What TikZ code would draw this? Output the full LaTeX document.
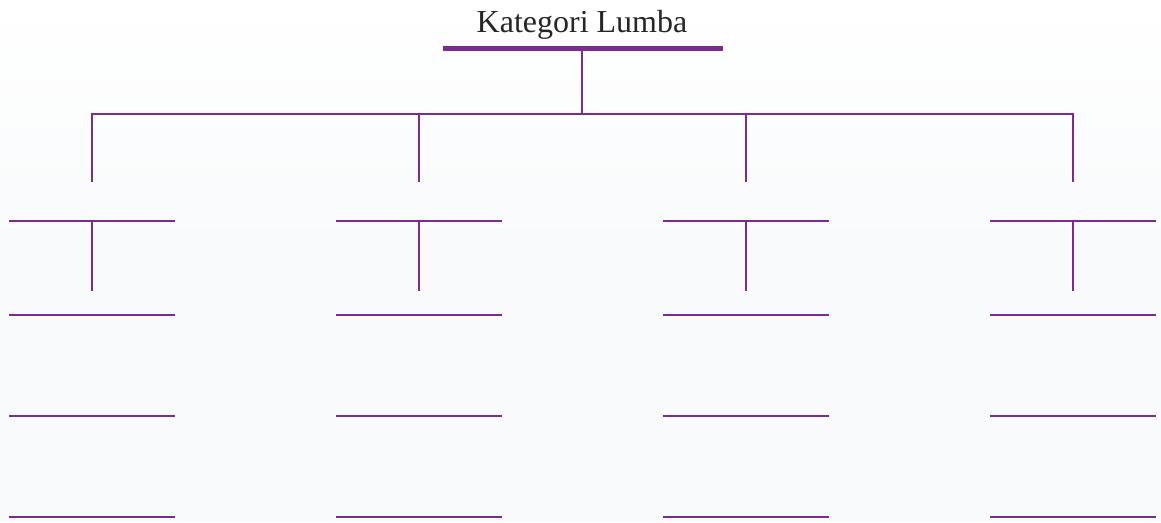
\documentclass[tikz,border=0pt]{standalone}
\usepackage{fontspec}
\setmainfont{Liberation Serif}
\usetikzlibrary{positioning}
\usepackage{xcolor}
\definecolor{ungu}{RGB}{122, 45, 143}
\definecolor{latar}{RGB}{248, 250, 251}

\begin{document}
\begin{tikzpicture}[
    x=1pt,
    y=-1pt,
    garis/.style={
        draw=ungu,
        line width=2pt
    },
    judul/.style={
        font=\fontsize{32}{38}\selectfont,
        text=black!85,
        inner sep=0pt
    },
    slot/.style={
        minimum width=166pt,
        minimum height=0pt,
        inner sep=0pt
    }
]

\useasboundingbox (0,0) rectangle (1161,522);

% ---------------- Latar ----------------

\shade[top color=white, bottom color=latar] (0,0) rectangle (1161,260);
\fill[latar] (0,259) rectangle (1161,522);

% ---------------- Judul ----------------

\node[
    judul,
    anchor=base
] (judul) at (582,32)
{Kategori Lumba};

\node[
    slot,
    minimum width=280pt
] (alas) at (583,48)
{};

\draw[garis, line width=5pt] (alas.west) -- (alas.east);

\coordinate (cabang) at (582,114);

\draw[garis] (alas.south -| cabang) -- (cabang);

% ---------------- Kolom ----------------

\foreach \x/\nama in {92/a, 419/b, 746/c, 1073/d}
{
    \coordinate (atas-\nama) at (\x,114);
    \coordinate (turun-\nama) at (\x,182);
    \coordinate (bawah-\nama) at (\x,291);

    \node[slot] (slot1-\nama) at (\x,221) {};
    \node[slot] (slot2-\nama) at (\x,315) {};
    \node[slot] (slot3-\nama) at (\x,416) {};
    \node[slot] (slot4-\nama) at (\x,517) {};

    \foreach \i in {1,...,4}
        \draw[garis] (slot\i-\nama.west) -- (slot\i-\nama.east);

    \draw[garis] (slot1-\nama.south) -- (bawah-\nama);
}

% ---------------- Cabang ----------------

\draw[garis] (turun-a) -- (atas-a) -- (atas-d) -- (turun-d);
\draw[garis] (atas-b) -- (turun-b);
\draw[garis] (atas-c) -- (turun-c);

\end{tikzpicture}
\end{document}
